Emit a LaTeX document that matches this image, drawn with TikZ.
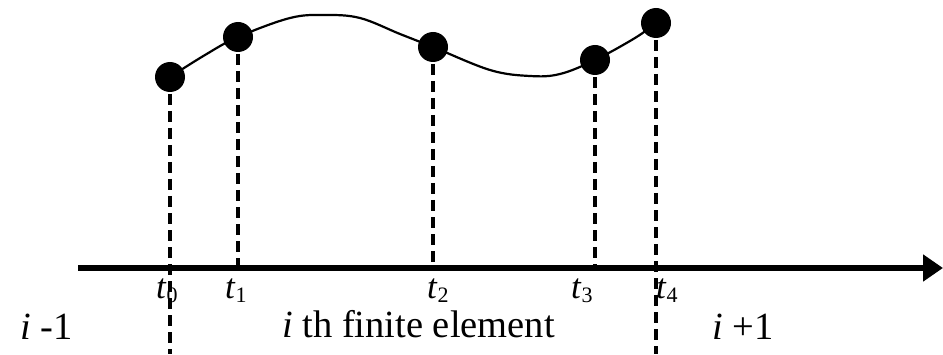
\documentclass[tikz,border=0pt]{standalone}
\usepackage{fontspec}
\setmainfont{Liberation Serif}
\usetikzlibrary{arrows.meta}
\tikzset{
  knot/.style={circle, fill=black, inner sep=0pt, minimum size=30pt},
  drop/.style={line width=4.5pt, dash pattern=on 11pt off 6pt},
  tlab/.style={anchor=base west, inner sep=0pt, font=\fontsize{35}{40}\selectfont},
  elab/.style={anchor=base west, inner sep=0pt, font=\fontsize{38.5}{44}\selectfont},
}
\newcommand{\tsub}[1]{\textit{t}\raisebox{-4pt}{\fontsize{22}{24}\selectfont #1}}

\begin{document}
\begin{tikzpicture}[x=1pt,y=1pt]
  \useasboundingbox (0,0) rectangle (943,354);
  % axis ends and knot positions
  \coordinate (ax0) at (78,86);
  \coordinate (ax1) at (943,86);
  \coordinate (c0) at (170,277);
  \coordinate (c1) at (238,317);
  \coordinate (c2) at (433,307);
  \coordinate (c3) at (595,294);
  \coordinate (c4) at (656,331);
  \coordinate (b0) at (170,0);
  \coordinate (b1) at (238,86);
  \coordinate (b2) at (433,86);
  \coordinate (b3) at (595,86);
  \coordinate (b4) at (656,0);
  % labels
  \node[tlab] (l0) at (156,56) {\tsub{0}};
  \node[tlab] (l1) at (225,56) {\tsub{1}};
  \node[tlab] (l2) at (427,56) {\tsub{2}};
  \node[tlab] (l3) at (571,56) {\tsub{3}};
  \node[tlab] (l4) at (656,56) {\tsub{4}};
  \node[elab] (prev) at (20,15) {\textit{i} -1};
  \node[elab] (elem) at (282,17) {\textit{i} th finite element};
  \node[elab] (next) at (712,15) {\textit{i} +1};
  % dashed drops
  \draw[drop] (c0) -- (b0);
  \draw[drop] (c1) -- (b1);
  \draw[drop] (c2) -- (b2);
  \draw[drop] (c3) -- (b3);
  \draw[drop] (c4) -- (b4);
  % time axis
  \draw[line width=6pt, -{Triangle[length=20pt,width=26pt]}] (ax0) -- (ax1);
  % interpolating curve
  \draw[line width=2.2pt] plot[smooth, tension=0.6] coordinates
    {(c0) (205,299) (c1) (290,336) (325,339) (360,336) (400,320) (c2)
     (490,284) (530,278) (560,280) (c3) (635,316) (c4)};
  % knots
  \node[knot] (p0) at (c0) {};
  \node[knot] (p1) at (c1) {};
  \node[knot] (p2) at (c2) {};
  \node[knot] (p3) at (c3) {};
  \node[knot] (p4) at (c4) {};
\end{tikzpicture}
\end{document}
